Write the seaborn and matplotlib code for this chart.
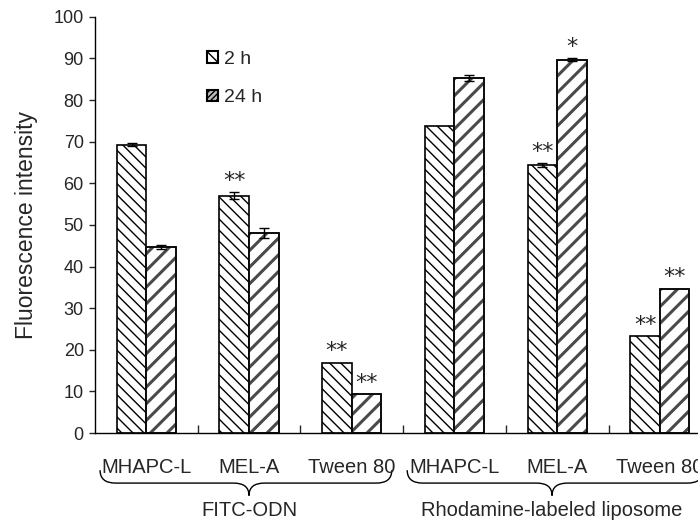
import matplotlib
matplotlib.use("Agg")
import matplotlib.pyplot as plt
import matplotlib.transforms as mtransforms
from matplotlib.path import Path
from matplotlib.patches import PathPatch, Rectangle, Patch
import seaborn as sns
import pandas as pd
import numpy as np

# ---- data ----
groups = ["FITC-ODN", "FITC-ODN", "FITC-ODN",
          "Rhodamine-labeled liposome", "Rhodamine-labeled liposome", "Rhodamine-labeled liposome"]
agents = ["MHAPC-L", "MEL-A", "Tween 80", "MHAPC-L", "MEL-A", "Tween 80"]
times = ["2 h", "24 h"]
vals_2h = [69.3, 57.0, 16.9, 73.7, 64.4, 23.3]
vals_24h = [44.7, 48.0, 9.4, 85.3, 89.7, 34.7]
err_2h = [0.4, 0.8, 0.0, 0.0, 0.5, 0.0]
err_24h = [0.4, 1.2, 0.0, 0.8, 0.3, 0.0]
stars_2h = ["", "**", "**", "", "**", "**"]
stars_24h = ["", "", "**", "", "*", "**"]
group_names = ["FITC-ODN", "Rhodamine-labeled liposome"]
yticks = list(range(0, 101, 10))

keys = [f"{g}|{a}" for g, a in zip(groups, agents)]
df = pd.DataFrame({
    "key": keys * 2,
    "time": ["2 h"] * 6 + ["24 h"] * 6,
    "value": vals_2h + vals_24h,
})

sns.set_style("ticks")
plt.rcParams["font.family"] = ["Liberation Sans", "DejaVu Sans"]
plt.rcParams["hatch.linewidth"] = 1.0

fig = plt.figure(figsize=(6.98, 5.25), dpi=100)
ax = fig.add_axes([0.136, 0.175, 0.883, 0.793])

sns.barplot(data=df, x="key", y="value", hue="time", order=keys, hue_order=times,
            width=0.575, errorbar=None, dodge=True, gap=0, ax=ax,
            palette=["white", "white"], legend=False)

c2, c24 = ax.containers[0], ax.containers[1]
for p in c2:
    p.set_facecolor("white")
    p.set_edgecolor("black")
    p.set_linewidth(1.2)
    p.set_hatch("\\\\\\")
for p in c24:
    p.set_facecolor("white")
    p.set_edgecolor("#4a4a4a")
    p.set_linewidth(1.2)
    p.set_hatch("//")
    if hasattr(p, "set_hatch_linewidth"):
        p.set_hatch_linewidth(2.2)

# legend proxies (small squares)
h2 = Patch(facecolor="white", edgecolor="black", linewidth=1.5, hatch="\\\\\\")
h24 = Patch(facecolor="#bbbbbb", edgecolor="black", linewidth=1.5, hatch="//////")
handles = [h2, h24]

# black outline on top of 24h bars
for p in c24:
    ax.add_patch(Rectangle((p.get_x(), p.get_y()), p.get_width(), p.get_height(),
                           fill=False, edgecolor="black", linewidth=1.2, zorder=3))

# error bars and stars
for cont, errs, stars in ((c2, err_2h, stars_2h), (c24, err_24h, stars_24h)):
    for p, e, s in zip(cont, errs, stars):
        xc = p.get_x() + p.get_width() / 2
        top = p.get_height()
        if e > 0:
            ax.errorbar(xc, top, yerr=e, fmt="none", ecolor="black", elinewidth=1.0,
                        capsize=3.5, capthick=1.0, zorder=4)
        if s:
            ax.text(xc, top + e + 1.3, s, ha="center", va="baseline", fontsize=16,
                    family=["DejaVu Sans"], zorder=5)

ax.set_xlim(-0.5, 5.5)
ax.set_ylim(0, 100)
ax.set_yticks(yticks)
ax.tick_params(axis="y", labelsize=13, direction="out", length=4, width=1, pad=4)
ax.set_xticks([0.5, 1.5, 2.5, 3.5, 4.5])
ax.set_xticklabels([])
ax.tick_params(axis="x", direction="in", length=6, width=1)
ax.set_xlabel("")
ax.set_ylabel("Fluorescence intensity", fontsize=16.5)
ax.yaxis.set_label_coords(-0.093, 0.5)
for sp in ("top", "right"):
    ax.spines[sp].set_visible(False)
for sp in ("left", "bottom"):
    ax.spines[sp].set_linewidth(1.0)
    ax.spines[sp].set_color("black")

trans = mtransforms.blended_transform_factory(ax.transData, ax.transAxes)
for i, a in enumerate(agents):
    ax.text(i, -0.082, a, transform=trans, ha="center", va="center", fontsize=14.5,
            clip_on=False)

def brace(x0, x1, xm, ytop=-0.089, yline=-0.12, ytip=-0.15, dx=0.15):
    verts = [(x0, ytop), (x0, yline), (x0 + dx, yline),
             (xm - dx, yline), (xm, yline), (xm, ytip),
             (xm, yline), (xm + dx, yline),
             (x1 - dx, yline), (x1, yline), (x1, ytop)]
    codes = [Path.MOVETO, Path.CURVE3, Path.CURVE3,
             Path.LINETO, Path.CURVE3, Path.CURVE3,
             Path.CURVE3, Path.CURVE3,
             Path.LINETO, Path.CURVE3, Path.CURVE3]
    pp = PathPatch(Path(verts, codes), transform=trans, fill=False, edgecolor="black",
                   linewidth=1.0, clip_on=False)
    ax.add_patch(pp)

brace(-0.45, 2.39, 1.0)
brace(2.54, 5.42, 3.95)
ax.text(1.0, -0.185, group_names[0], transform=trans, ha="center", va="center",
        fontsize=14.5, clip_on=False)
ax.text(3.95, -0.185, group_names[1], transform=trans, ha="center", va="center",
        fontsize=14.5, clip_on=False)

ax.legend(handles=handles, labels=times, loc="upper left", bbox_to_anchor=(0.182, 0.918),
          frameon=False, fontsize=14, handlelength=0.55, handleheight=0.55,
          handletextpad=0.3, labelspacing=1.1, borderaxespad=0, borderpad=0)

fig.savefig("out.png", dpi=100)
